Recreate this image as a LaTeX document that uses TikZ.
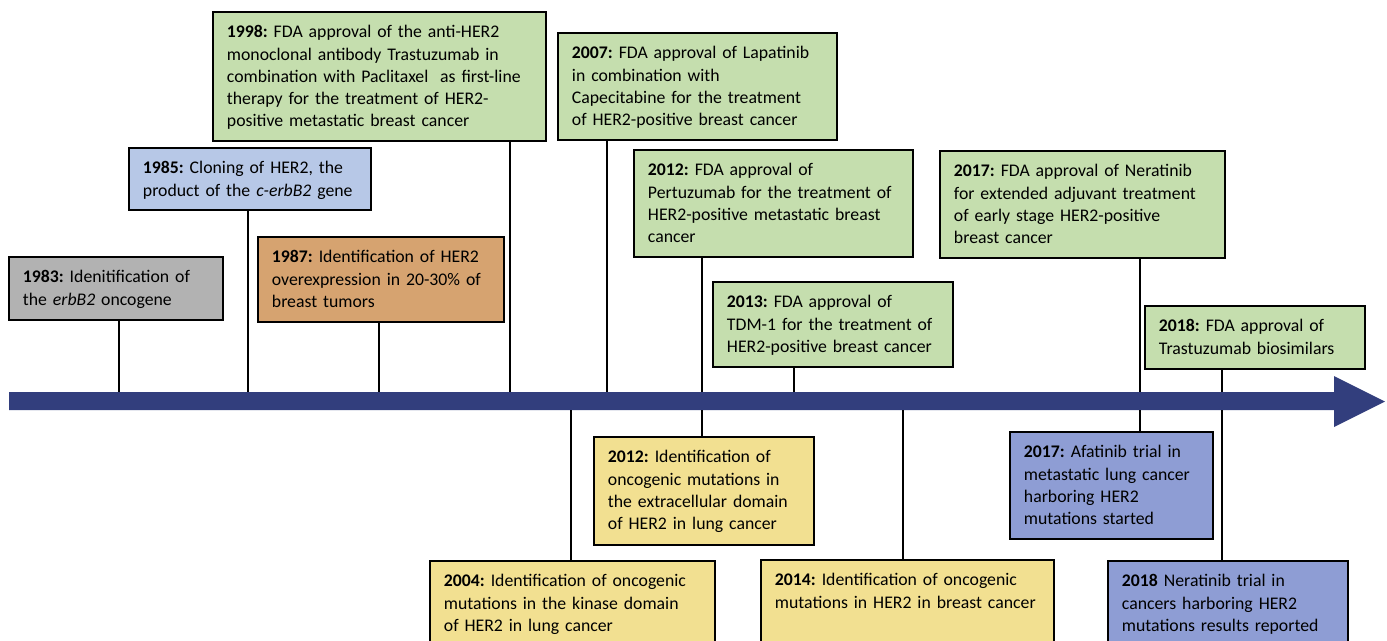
\documentclass[tikz,border=0pt]{standalone}
\usepackage{fontspec}
\setmainfont{Carlito}
\usepackage{tikz}
\usetikzlibrary{calc}
\definecolor{evgray}{RGB}{178,178,178}
\definecolor{evblue}{RGB}{183,200,231}
\definecolor{evtan}{RGB}{214,163,112}
\definecolor{evgreen}{RGB}{197,222,174}
\definecolor{evyellow}{RGB}{242,224,145}
\definecolor{evpurple}{RGB}{142,157,212}
\definecolor{timeline}{RGB}{50,62,125}
\newcommand{\evfont}{\fontsize{10.1pt}{12.6pt}\selectfont\frenchspacing}

\begin{document}
\begin{tikzpicture}[x=0.02cm, y=-0.02cm,
  event/.style={draw=black, line width=1.1pt, anchor=north west, align=left,
    inner xsep=0.28cm, inner ysep=0pt, text height=0.52cm, font=\evfont},
  stem/.style={draw=black, line width=0.85pt}]
  \useasboundingbox (0,0) rectangle (1387,640);
  \clip (0,0) rectangle (1387,640);

  % Timeline
  \fill[timeline] (9,392) -- (1334,392) -- (1334,376) -- (1385,401.5)
    -- (1334,427) -- (1334,410) -- (9,410) -- cycle;

  % Ticks on the timeline
  \coordinate (a1983) at (119,392);
  \coordinate (a1985) at (248,392);
  \coordinate (a1987) at (379,392);
  \coordinate (a1998) at (510,392);
  \coordinate (a2007) at (607,392);
  \coordinate (a2012) at (702,392);
  \coordinate (a2013) at (794,392);
  \coordinate (a2017) at (1140,392);
  \coordinate (a2018) at (1222,392);
  \coordinate (b2004) at (571,410);
  \coordinate (b2012) at (702,410);
  \coordinate (b2014) at (903,410);
  \coordinate (b2017) at (1140,410);
  \coordinate (b2018) at (1222,410);

  % Events above
  \node[event, fill=evgray, text width=3.72cm, text depth=0.74cm] (e1983) at (8,256)
    {\textbf{1983:} Idenitification of\\the \textit{erbB2} oncogene};
  \node[event, fill=evblue, text width=4.28cm, text depth=0.72cm] (e1985) at (128,147)
    {\textbf{1985:} Cloning of HER2, the\\product of the \textit{c-erbB2} gene};
  \node[event, fill=evtan, text width=4.36cm, text depth=1.18cm] (e1987) at (257,236)
    {\textbf{1987:} Identification of HER2\\overexpression in 20-30\% of\\breast tumors};
  \node[event, fill=evgreen, text width=6.10cm, text depth=2.06cm] (e1998) at (212,11)
    {\textbf{1998:} FDA approval of the anti-HER2\\monoclonal antibody Trastuzumab in\\combination with Paclitaxel~ as first-line\\therapy for the treatment of HER2-\\positive metastatic breast cancer};
  \node[event, fill=evgreen, text width=5.02cm, text depth=1.62cm] (e2007) at (557,32)
    {\textbf{2007:} FDA approval of Lapatinib\\in combination with\\Capecitabine for the treatment\\of HER2-positive breast cancer};
  \node[event, fill=evgreen, text width=5.02cm, text depth=1.62cm] (e2012a) at (633,149)
    {\textbf{2012:} FDA approval of\\Pertuzumab for the treatment of\\HER2-positive metastatic breast\\cancer};
  \node[event, fill=evgreen, text width=4.24cm, text depth=1.18cm] (e2013) at (712,281)
    {\textbf{2013:} FDA approval of\\TDM-1 for the treatment of\\HER2-positive breast cancer};
  \node[event, fill=evgreen, text width=5.14cm, text depth=1.62cm] (e2017a) at (939,150)
    {\textbf{2017:} FDA approval of Neratinib\\for extended adjuvant treatment\\of early stage HER2-positive\\breast cancer};
  \node[event, fill=evgreen, text width=3.84cm, text depth=0.74cm] (e2018a) at (1144,305)
    {\textbf{2018:} FDA approval of\\Trastuzumab biosimilars};

  % Events below
  \node[event, fill=evyellow, text width=5.14cm, text depth=2.0cm] (e2004) at (429,560)
    {\textbf{2004:} Identification of oncogenic\\mutations in the kinase domain\\of HER2 in lung cancer};
  \node[event, fill=evyellow, text width=3.84cm, text depth=1.64cm] (e2012b) at (593,436)
    {\textbf{2012:} Identification of\\oncogenic mutations in\\the extracellular domain\\of HER2 in lung cancer};
  \node[event, fill=evyellow, text width=5.30cm, text depth=2.0cm] (e2014) at (760,559)
    {\textbf{2014:} Identification of oncogenic\\mutations in HER2 in breast cancer};
  \node[event, fill=evpurple, text width=3.50cm, text depth=1.62cm] (e2017b) at (1009,431)
    {\textbf{2017:} Afatinib trial in\\metastatic lung cancer\\harboring HER2\\mutations started};
  \node[event, fill=evpurple, text width=4.24cm, text depth=2.0cm] (e2018b) at (1107,560)
    {\textbf{2018} Neratinib trial in\\cancers harboring HER2\\mutations results reported};

  % Stems
  \draw[stem] (e1983.south -| a1983) -- (a1983);
  \draw[stem] (e1985.south -| a1985) -- (a1985);
  \draw[stem] (e1987.south -| a1987) -- (a1987);
  \draw[stem] (e1998.south -| a1998) -- (a1998);
  \draw[stem] (e2007.south -| a2007) -- (a2007);
  \draw[stem] (e2012a.south -| a2012) -- (a2012);
  \draw[stem] (e2013.south -| a2013) -- (a2013);
  \draw[stem] (e2017a.south -| a2017) -- (a2017);
  \draw[stem] (e2018a.south -| a2018) -- (a2018);
  \draw[stem] (b2004) -- (b2004 |- e2004.north);
  \draw[stem] (b2012) -- (b2012 |- e2012b.north);
  \draw[stem] (b2014) -- (b2014 |- e2014.north);
  \draw[stem] (b2017) -- (b2017 |- e2017b.north);
  \draw[stem] (b2018) -- (b2018 |- e2018b.north);
\end{tikzpicture}
\end{document}
